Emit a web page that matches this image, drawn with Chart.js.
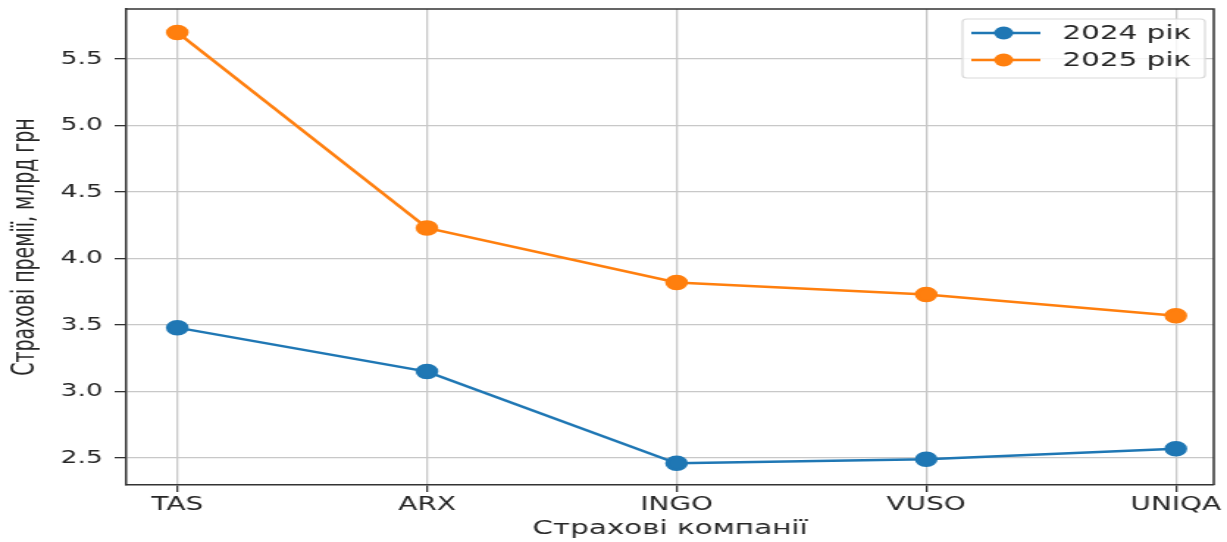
<!DOCTYPE html>
<html>
<head>
<meta charset="utf-8">
<script src="https://cdn.jsdelivr.net/npm/chart.js@4"></script>
<style>
  body { margin: 0; background: #fff; }
  /* the source picture is stretched sideways, so the canvas is too */
  #chart { display: block; width: 1227px; height: 542px; }
</style>
</head>
<body>
<canvas id="chart" width="835" height="542" style="width:1227px;height:542px"></canvas>
<script>
// categories and values
const companies = ['TAS', 'ARX', 'INGO', 'VUSO', 'UNIQA'];
const premiums2024 = [3.48, 3.15, 2.46, 2.49, 2.57];
const premiums2025 = [5.70, 4.23, 3.82, 3.73, 3.57];
const seriesNames = ['2024 рік', '2025 рік'];
const yTicks = [2.5, 3.0, 3.5, 4.0, 4.5, 5.0, 5.5];

const blue = '#1f77b4';
const orange = '#ff7f0e';
const ink = '#262626';

function toPoints(vals) {
  return vals.map((v, i) => ({ x: i, y: v }));
}

// top and right spines
const frame = {
  id: 'frame',
  afterDatasetsDraw(chart) {
    const { ctx, chartArea: a } = chart;
    ctx.save();
    ctx.strokeStyle = '#333';
    ctx.lineWidth = 1.5;
    ctx.beginPath();
    ctx.moveTo(a.left, a.top);
    ctx.lineTo(a.right, a.top);
    ctx.lineTo(a.right, a.bottom);
    ctx.stroke();
    ctx.restore();
  }
};

// legend box in the upper right corner
const boxLegend = {
  id: 'boxLegend',
  afterDraw(chart) {
    const ctx = chart.ctx;
    const x0 = 655, y0 = 19, w = 165, h = 59;
    ctx.save();
    ctx.fillStyle = 'rgba(255,255,255,0.8)';
    ctx.strokeStyle = '#d9d9d9';
    ctx.lineWidth = 1.2;
    ctx.beginPath();
    ctx.roundRect(x0, y0, w, h, 3);
    ctx.fill();
    ctx.stroke();
    chart.data.datasets.forEach((ds, i) => {
      const cy = y0 + 14 + i * 27;
      ctx.strokeStyle = ds.borderColor;
      ctx.lineWidth = 2.5;
      ctx.beginPath();
      ctx.moveTo(661, cy);
      ctx.lineTo(708, cy);
      ctx.stroke();
      ctx.fillStyle = ds.borderColor;
      ctx.beginPath();
      ctx.arc(683, cy, 6.5, 0, Math.PI * 2);
      ctx.fill();
      ctx.fillStyle = ink;
      ctx.font = '20px "DejaVu Sans"';
      ctx.textBaseline = 'middle';
      ctx.fillText(ds.label, 723, cy + 1);
    });
    ctx.restore();
  }
};

new Chart(document.getElementById('chart'), {
  type: 'line',
  data: {
    datasets: [
      {
        label: seriesNames[0],
        data: toPoints(premiums2024),
        borderColor: blue,
        backgroundColor: blue,
        borderWidth: 2.5,
        pointRadius: 6.5,
        pointHoverRadius: 6.5,
        tension: 0
      },
      {
        label: seriesNames[1],
        data: toPoints(premiums2025),
        borderColor: orange,
        backgroundColor: orange,
        borderWidth: 2.5,
        pointRadius: 6.5,
        pointHoverRadius: 6.5,
        tension: 0
      }
    ]
  },
  options: {
    responsive: false,
    animation: false,
    devicePixelRatio: 1,
    layout: { padding: { top: 9, right: 8, left: 0, bottom: 0 } },
    plugins: {
      legend: { display: false },
      tooltip: { enabled: false }
    },
    scales: {
      x: {
        type: 'linear',
        min: -0.204,
        max: 4.152,
        afterFit: s => { s.height = 57; },
        afterBuildTicks: s => { s.ticks = companies.map((c, i) => ({ value: i })); },
        ticks: {
          color: ink,
          font: { family: 'DejaVu Sans', size: 19 },
          padding: 2,
          maxRotation: 0,
          callback: v => companies[v]
        },
        grid: { color: '#c8c8c8', lineWidth: 1.3, tickColor: '#333', tickLength: 7 },
        border: { color: '#333', width: 1.5 },
        title: {
          display: true,
          text: 'Страхові компанії',
          color: ink,
          font: { family: 'DejaVu Sans', size: 20 },
          padding: { top: 0, bottom: 1 }
        }
      },
      y: {
        min: 2.297,
        max: 5.876,
        afterFit: s => { s.width = 86; s.paddingTop = 0; s.paddingBottom = 0; },
        afterBuildTicks: s => { s.ticks = yTicks.map(v => ({ value: v })); },
        ticks: {
          color: ink,
          font: { family: 'DejaVu Sans', size: 18 },
          padding: 8,
          callback: v => v.toFixed(1)
        },
        grid: { color: '#c8c8c8', lineWidth: 1.3, tickColor: '#333', tickLength: 8 },
        border: { color: '#333', width: 1.5 },
        title: {
          display: true,
          text: 'Страхові премії, млрд грн',
          color: ink,
          font: { family: 'Liberation Sans Narrow, DejaVu Sans Condensed, sans-serif', size: 21 },
          padding: { top: 5, bottom: 0 }
        }
      }
    }
  },
  plugins: [frame, boxLegend]
});
</script>
</body>
</html>
